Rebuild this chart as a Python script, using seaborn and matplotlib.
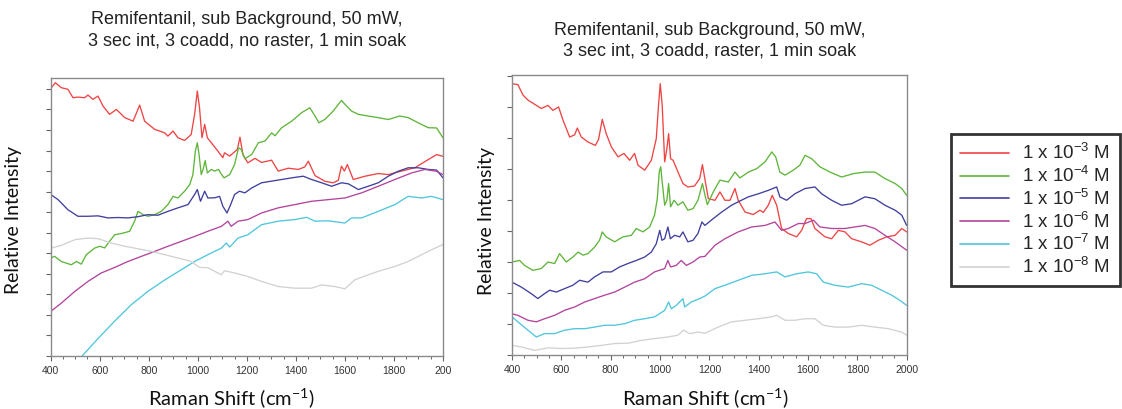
import matplotlib
matplotlib.use("Agg")
import matplotlib.pyplot as plt
import pandas as pd
import seaborn as sns
from matplotlib.ticker import MultipleLocator, FixedLocator

# ---------------------------------------------------------------- data
conc_labels = [r"1 x 10$^{-3}$ M", r"1 x 10$^{-4}$ M", r"1 x 10$^{-5}$ M",
               r"1 x 10$^{-6}$ M", r"1 x 10$^{-7}$ M", r"1 x 10$^{-8}$ M"]
line_colors = ["#ef4444", "#5fb53a", "#3f3f9e", "#b3449d", "#4fc6dd", "#d2d2d2"]

title_left = "Remifentanil, sub Background, 50 mW,\n3 sec int, 3 coadd, no raster, 1 min soak"
title_right = "Remifentanil, sub Background, 50 mW,\n3 sec int, 3 coadd, raster, 1 min soak"
x_label = "Raman Shift (cm$^{-1}$)"
y_label = "Relative Intensity"
xtick_values = [400, 600, 800, 1000, 1200, 1400, 1600, 1800, 2000]
xtick_labels_left = ["400", "600", "800", "1000", "1200", "1400", "1600", "1800", "200"]
xtick_labels_right = ["400", "600", "800", "1000", "1200", "1400", "1600", "1800", "2000"]

# no raster panel
nr_wn_1e3 = [400, 419, 443, 470, 491, 511, 538, 552, 572, 593, 613, 640, 668, 702, 736, 763, 783,
             824, 865, 878, 899, 919, 946, 973, 987, 998, 1007, 1017, 1028, 1039, 1055, 1082, 1102,
             1109, 1130, 1161, 1172, 1184, 1204, 1233, 1260, 1301, 1328, 1369, 1410, 1436, 1451,
             1478, 1519, 1552, 1573, 1586, 1598, 1610, 1634, 1682, 1736, 1777, 1831, 1885, 1940,
             1974, 2000]
nr_i_1e3 = [13.02, 13.30, 13.06, 12.98, 12.57, 12.60, 12.57, 12.70, 12.49, 12.65, 12.17, 11.76,
            12.00, 11.60, 11.43, 12.21, 11.43, 11.03, 10.86, 10.70, 10.95, 10.62, 10.49, 10.78,
            11.76, 12.90, 12.08, 10.62, 11.27, 10.62, 10.38, 9.97, 9.65, 9.89, 9.73, 10.05, 10.65,
            9.80, 9.40, 9.62, 9.42, 9.53, 9.00, 9.14, 9.08, 9.20, 9.48, 8.78, 8.50, 8.43, 8.55,
            9.24, 9.00, 9.32, 8.59, 8.75, 8.88, 8.83, 9.00, 9.16, 9.56, 9.80, 9.72]

nr_wn_1e4 = [400, 416, 443, 484, 505, 525, 545, 579, 600, 620, 640, 661, 695, 722, 742, 756, 776,
             797, 824, 851, 878, 899, 919, 946, 967, 980, 990, 998, 1005, 1014, 1022, 1030, 1039,
             1055, 1069, 1085, 1093, 1107, 1130, 1150, 1166, 1177, 1192, 1220, 1247, 1274, 1301,
             1315, 1342, 1383, 1423, 1457, 1478, 1494, 1519, 1552, 1586, 1600, 1627, 1655, 1695,
             1736, 1777, 1824, 1858, 1899, 1940, 1974, 2000]
nr_i_1e4 = [4.77, 4.85, 4.60, 4.44, 4.60, 4.47, 4.93, 5.25, 5.34, 5.26, 5.58, 5.90, 5.98, 6.07,
            6.56, 7.04, 6.88, 6.80, 6.88, 7.04, 7.37, 7.77, 7.69, 8.02, 8.34, 8.83, 9.97, 10.38,
            9.81, 8.83, 9.10, 9.51, 8.91, 9.08, 9.00, 9.08, 8.90, 8.67, 8.83, 9.32, 10.13, 10.05,
            9.60, 9.81, 10.38, 10.46, 10.86, 10.72, 11.11, 11.43, 11.84, 12.08, 11.68, 11.35,
            11.52, 11.92, 12.44, 12.25, 11.92, 11.76, 11.68, 11.60, 11.51, 11.68, 11.60, 11.35,
            11.11, 11.10, 10.62]

nr_wn_1e5 = [400, 430, 470, 511, 552, 593, 634, 674, 715, 756, 797, 837, 878, 919, 960, 987, 998,
             1011, 1028, 1041, 1069, 1089, 1102, 1119, 1134, 1150, 1170, 1192, 1220, 1260, 1301,
             1342, 1383, 1430, 1464, 1505, 1546, 1586, 1614, 1655, 1695, 1736, 1777, 1817, 1858,
             1899, 1940, 1974, 2000]
nr_i_1e5 = [7.86, 7.61, 7.12, 6.80, 6.80, 6.82, 6.72, 6.74, 6.72, 6.78, 6.88, 6.85, 7.04, 7.21,
            7.37, 7.86, 8.10, 7.53, 8.02, 7.69, 7.70, 7.77, 7.29, 6.96, 7.37, 7.86, 8.02, 7.94,
            8.18, 8.43, 8.51, 8.59, 8.67, 8.75, 8.59, 8.43, 8.26, 8.43, 8.38, 8.10, 8.26, 8.43,
            8.75, 8.99, 9.16, 9.16, 9.08, 9.05, 8.67]

nr_wn_1e6 = [400, 443, 498, 552, 606, 661, 715, 770, 824, 878, 933, 987, 1041, 1096, 1123, 1136,
             1164, 1204, 1260, 1328, 1396, 1464, 1532, 1600, 1668, 1736, 1804, 1872, 1926, 1974,
             2000]
nr_i_1e6 = [2.17, 2.57, 3.14, 3.63, 4.04, 4.31, 4.60, 4.85, 5.09, 5.34, 5.58, 5.82, 6.07, 6.31,
            6.56, 6.31, 6.56, 6.64, 6.96, 7.21, 7.37, 7.53, 7.61, 7.69, 7.94, 8.26, 8.59, 8.91,
            9.08, 8.99, 8.83]

nr_wn_1e7 = [528, 593, 661, 729, 797, 865, 933, 987, 1041, 1096, 1116, 1130, 1164, 1204, 1260,
             1328, 1396, 1444, 1478, 1532, 1600, 1627, 1668, 1736, 1804, 1858, 1913, 1953, 2000]
nr_i_1e7 = [0.00, 0.85, 1.70, 2.50, 3.15, 3.70, 4.20, 4.60, 4.93, 5.25, 5.50, 5.30, 5.74, 5.90,
            6.39, 6.56, 6.64, 6.75, 6.56, 6.58, 6.47, 6.72, 6.72, 7.04, 7.37, 7.77, 7.69, 7.77,
            7.61]

nr_wn_1e8 = [400, 443, 498, 552, 593, 647, 702, 756, 810, 865, 919, 973, 1007, 1041, 1069, 1096,
             1109, 1150, 1204, 1260, 1328, 1396, 1464, 1505, 1559, 1600, 1641, 1695, 1736, 1804,
             1858, 1913, 1967, 2000]
nr_i_1e8 = [5.25, 5.38, 5.66, 5.74, 5.71, 5.50, 5.34, 5.22, 5.09, 4.93, 4.77, 4.60, 4.31, 4.30,
            4.12, 3.95, 4.15, 4.04, 3.87, 3.63, 3.38, 3.30, 3.30, 3.46, 3.38, 3.27, 3.71, 3.95,
            4.12, 4.36, 4.60, 4.93, 5.25, 5.42]

# raster panel
r_wn_1e3 = [400, 424, 445, 465, 499, 519, 546, 566, 589, 607, 634, 654, 665, 681, 708, 738, 751,
            766, 782, 803, 830, 854, 877, 897, 911, 938, 965, 985, 994, 1001, 1009, 1019, 1028,
            1035, 1043, 1053, 1073, 1093, 1113, 1140, 1161, 1172, 1184, 1196, 1223, 1243, 1263,
            1284, 1304, 1317, 1345, 1378, 1405, 1419, 1439, 1455, 1473, 1493, 1520, 1554, 1574,
            1594, 1612, 1628, 1669, 1696, 1723, 1750, 1777, 1817, 1851, 1885, 1919, 1953, 1980,
            2000]
r_i_1e3 = [8.75, 8.72, 8.38, 8.22, 8.05, 7.95, 8.05, 7.89, 8.00, 7.57, 7.03, 7.10, 7.32, 7.03,
           6.87, 6.76, 6.95, 7.60, 7.14, 6.71, 6.39, 6.50, 6.28, 6.50, 6.12, 5.96, 6.28, 6.98,
           8.05, 8.75, 8.05, 6.23, 6.66, 7.14, 6.33, 6.28, 5.90, 5.53, 5.42, 5.45, 5.69, 6.14,
           5.58, 5.04, 4.99, 5.26, 4.99, 4.99, 5.37, 4.99, 4.61, 4.53, 4.67, 4.60, 4.83, 5.15,
           4.83, 4.08, 3.92, 3.81, 4.02, 4.40, 4.40, 4.08, 3.81, 3.75, 4.02, 3.97, 3.75, 3.65,
           3.54, 3.70, 3.81, 3.86, 4.08, 3.97]

r_wn_1e4 = [400, 431, 451, 485, 519, 546, 573, 593, 620, 647, 668, 688, 708, 735, 755, 766, 782,
            816, 850, 884, 904, 931, 958, 978, 989, 997, 1003, 1009, 1019, 1028, 1035, 1043, 1057,
            1073, 1093, 1113, 1134, 1154, 1172, 1184, 1192, 1216, 1243, 1277, 1304, 1324, 1358,
            1392, 1426, 1453, 1469, 1486, 1507, 1540, 1567, 1588, 1615, 1648, 1689, 1736, 1784,
            1831, 1871, 1912, 1953, 1980, 2000]
r_i_1e4 = [3.00, 3.05, 2.89, 2.73, 2.79, 3.00, 2.95, 3.27, 3.00, 3.16, 3.32, 3.22, 3.27, 3.48,
           3.70, 3.97, 3.81, 3.65, 3.81, 3.86, 4.08, 3.97, 4.13, 4.51, 5.04, 5.90, 6.07, 5.58,
           4.83, 5.00, 5.53, 4.78, 4.99, 4.83, 4.94, 4.67, 4.72, 4.99, 5.53, 5.10, 4.85, 5.26,
           5.64, 5.58, 5.90, 5.71, 5.90, 6.01, 6.23, 6.55, 6.39, 5.90, 5.80, 5.96, 6.12, 6.44,
           6.33, 6.07, 5.90, 5.74, 5.85, 5.90, 5.90, 5.69, 5.53, 5.37, 5.15]

r_wn_1e5 = [400, 438, 478, 505, 532, 553, 580, 613, 647, 674, 708, 735, 769, 803, 836, 870, 904,
            938, 965, 985, 999, 1008, 1019, 1032, 1042, 1059, 1080, 1093, 1113, 1134, 1154, 1170,
            1182, 1216, 1250, 1290, 1317, 1358, 1399, 1439, 1473, 1486, 1513, 1547, 1588, 1628,
            1655, 1696, 1736, 1777, 1831, 1871, 1912, 1953, 1980, 2000]
r_i_1e5 = [2.35, 2.19, 1.98, 1.82, 1.98, 2.09, 2.03, 2.14, 2.25, 2.41, 2.35, 2.52, 2.68, 2.68,
           2.84, 2.95, 3.05, 3.16, 3.32, 3.59, 4.02, 3.70, 3.75, 4.13, 3.75, 3.86, 3.81, 3.97,
           3.65, 3.70, 3.92, 4.29, 4.18, 4.40, 4.61, 4.83, 4.94, 5.10, 5.20, 5.31, 5.42, 5.10,
           4.99, 5.20, 5.37, 5.42, 5.20, 4.99, 4.83, 4.88, 5.10, 5.04, 4.83, 4.67, 4.51, 4.18]

r_wn_1e6 = [400, 424, 465, 499, 532, 573, 613, 654, 695, 735, 776, 816, 857, 897, 938, 978, 1019,
            1032, 1043, 1066, 1086, 1107, 1134, 1161, 1182, 1223, 1263, 1317, 1372, 1426, 1466,
            1493, 1520, 1561, 1588, 1622, 1648, 1696, 1750, 1790, 1831, 1871, 1912, 1953, 2000]
r_i_1e6 = [1.33, 1.28, 1.12, 1.07, 1.17, 1.28, 1.44, 1.55, 1.71, 1.82, 1.93, 2.03, 2.19, 2.35,
           2.46, 2.68, 2.79, 3.05, 2.84, 2.89, 3.05, 2.89, 3.00, 3.16, 3.18, 3.54, 3.75, 3.97,
           4.13, 4.18, 4.29, 4.02, 4.08, 4.24, 4.24, 4.35, 4.13, 4.08, 4.08, 4.13, 4.18, 4.08,
           3.86, 3.65, 3.38]

r_wn_1e7 = [400, 424, 465, 499, 532, 573, 613, 654, 695, 735, 776, 816, 857, 897, 938, 978, 1019,
            1035, 1046, 1066, 1093, 1100, 1127, 1161, 1182, 1223, 1263, 1317, 1372, 1426, 1473,
            1507, 1554, 1601, 1635, 1662, 1709, 1763, 1817, 1858, 1898, 1939, 1973, 2000]
r_i_1e7 = [1.23, 1.07, 0.80, 0.58, 0.69, 0.69, 0.80, 0.85, 0.85, 0.90, 0.96, 0.96, 1.01, 1.12,
           1.17, 1.23, 1.44, 1.71, 1.49, 1.60, 1.82, 1.55, 1.71, 1.82, 1.90, 2.14, 2.25, 2.41,
           2.57, 2.62, 2.68, 2.52, 2.62, 2.68, 2.62, 2.35, 2.25, 2.19, 2.30, 2.25, 2.09, 1.93,
           1.76, 1.60]

r_wn_1e8 = [400, 438, 492, 546, 600, 654, 708, 762, 816, 870, 924, 978, 1032, 1073, 1096, 1120,
            1154, 1182, 1236, 1290, 1345, 1399, 1453, 1473, 1507, 1547, 1588, 1628, 1662, 1709,
            1763, 1817, 1871, 1925, 1980, 2000]
r_i_1e8 = [0.31, 0.26, 0.15, 0.23, 0.21, 0.22, 0.26, 0.31, 0.37, 0.38, 0.47, 0.53, 0.58, 0.64,
           0.80, 0.69, 0.74, 0.70, 0.90, 1.07, 1.12, 1.17, 1.23, 1.28, 1.12, 1.12, 1.17, 1.17,
           0.96, 0.90, 0.90, 0.96, 0.90, 0.85, 0.74, 0.64]

no_raster = [(nr_wn_1e3, nr_i_1e3), (nr_wn_1e4, nr_i_1e4), (nr_wn_1e5, nr_i_1e5),
             (nr_wn_1e6, nr_i_1e6), (nr_wn_1e7, nr_i_1e7), (nr_wn_1e8, nr_i_1e8)]
raster = [(r_wn_1e3, r_i_1e3), (r_wn_1e4, r_i_1e4), (r_wn_1e5, r_i_1e5),
          (r_wn_1e6, r_i_1e6), (r_wn_1e7, r_i_1e7), (r_wn_1e8, r_i_1e8)]


def long_frame(series):
    parts = [pd.DataFrame({"wavenumber": wn, "intensity": val, "conc": lab})
             for lab, (wn, val) in zip(conc_labels, series)]
    return pd.concat(parts, ignore_index=True)


# ---------------------------------------------------------------- style
sns.set_style("white")
plt.rcParams["font.family"] = ["Liberation Sans", "DejaVu Sans"]
plt.rcParams["mathtext.fontset"] = "custom"
plt.rcParams["mathtext.rm"] = "Liberation Sans"
plt.rcParams["mathtext.default"] = "regular"

fig = plt.figure(figsize=(11.22, 4.09), dpi=100)
ax_l = fig.add_axes([0.0452, 0.1296, 0.3496, 0.6797])
ax_r = fig.add_axes([0.4563, 0.1320, 0.3518, 0.6846])

palette = dict(zip(conc_labels, line_colors))

panels = [
    (ax_l, no_raster, title_left, xtick_labels_left, 13.53, 23.5),
    (ax_r, raster, title_right, xtick_labels_right, 9.03, 14),
]

for ax, series, title, xlabels, ytop, tpad in panels:
    df = long_frame(series)
    sns.lineplot(data=df, x="wavenumber", y="intensity", hue="conc", hue_order=conc_labels,
                 palette=palette, estimator=None, sort=False, linewidth=0.95, ax=ax,
                 legend=(ax is ax_l))
    ax.set_xlim(400, 2000)
    ax.set_ylim(0, ytop)
    ax.xaxis.set_major_locator(FixedLocator(xtick_values))
    ax.set_xticklabels(xlabels)
    ax.xaxis.set_minor_locator(MultipleLocator(50))
    ax.yaxis.set_major_locator(MultipleLocator(1))
    ax.set_yticklabels([])
    ax.tick_params(axis="both", which="major", direction="out", length=3.5, width=0.8,
                   color="#666666", labelsize=7.5, labelcolor="#333333", pad=4,
                   bottom=True, left=True)
    ax.tick_params(axis="x", which="minor", direction="out", length=2, width=0.7,
                   color="#666666", bottom=True)
    for sp in ax.spines.values():
        sp.set_color("#8a8a8a")
        sp.set_linewidth(1.0)
    ax.set_title(title, fontsize=13, color="#222222", linespacing=1.3, pad=tpad)
    ax.set_xlabel(x_label, family=["Lato", "DejaVu Sans"], fontsize=14.5, color="#111111")
    ax.set_ylabel(y_label, family=["Lato", "DejaVu Sans"], fontsize=14, color="#111111")

ax_l.xaxis.set_label_coords(0.46, -0.108)
ax_l.yaxis.set_label_coords(-0.072, 0.49)
ax_r.xaxis.set_label_coords(0.489, -0.11)
ax_r.yaxis.set_label_coords(-0.044, 0.48)

handles, labels = ax_l.get_legend_handles_labels()
ax_l.get_legend().remove()
leg = fig.legend(handles, labels, loc="upper left", bbox_to_anchor=(951 / 1122, 1 - 134 / 409),
                 frameon=True, fancybox=False, edgecolor="black", fontsize=13.5,
                 handlelength=2.6, handletextpad=0.7, labelspacing=0.14, borderpad=0.5,
                 borderaxespad=0.0)
leg.get_frame().set_linewidth(2.0)
for line in leg.get_lines():
    line.set_linewidth(1.2)

fig.savefig("out.png", dpi=100)
